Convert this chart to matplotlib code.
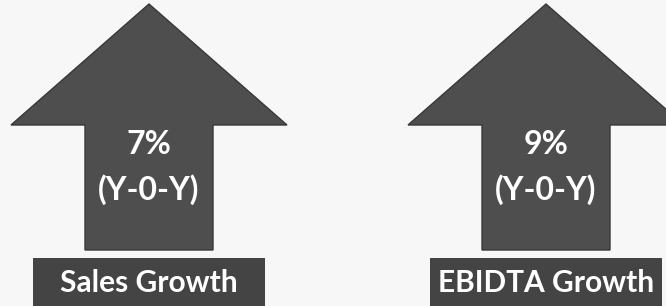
import matplotlib.pyplot as plt
from matplotlib.patches import Polygon, Rectangle

# Datos del grafico
metricas = ["Sales Growth", "EBIDTA Growth"]
crecimiento = [7, 9]          # porcentaje Y-0-Y
sufijo = "(Y-0-Y)"

# Geometria de cada flecha (en pixeles, eje y invertido)
centros = [149, 546]
ancho_cabeza = 138
ancho_cuerpo = 64
y_punta, y_cabeza, y_base = 4, 125, 250
caja_mitad, caja_top = 116, 258

COLOR_FLECHA = "#4e4e4e"
COLOR_CAJA = "#444444"
FUENTE = "Lato"

fig = plt.figure(figsize=(6.66, 3.06), dpi=100)
fig.patch.set_facecolor("#f7f7f7")
ax = fig.add_axes([0, 0, 1, 1])
ax.set_xlim(0, 666)
ax.set_ylim(306, 0)
ax.axis("off")

for cx, nombre, valor in zip(centros, metricas, crecimiento):
    # flecha hacia arriba
    pts = [
        (cx, y_punta),
        (cx + ancho_cabeza, y_cabeza),
        (cx + ancho_cuerpo, y_cabeza),
        (cx + ancho_cuerpo, y_base),
        (cx - ancho_cuerpo, y_base),
        (cx - ancho_cuerpo, y_cabeza),
        (cx - ancho_cabeza, y_cabeza),
    ]
    ax.add_patch(Polygon(pts, closed=True, facecolor=COLOR_FLECHA, edgecolor="#383838", lw=1))

    ax.text(cx, 144, f"{valor}%", color="white", fontsize=23, fontweight="bold",
            family=FUENTE, ha="center", va="center")
    ax.text(cx, 190, sufijo, color="white", fontsize=23, fontweight="bold",
            family=FUENTE, ha="center", va="center")

    # caja con la etiqueta
    ax.add_patch(Rectangle((cx - caja_mitad, caja_top), 2 * caja_mitad, 306 - caja_top + 2,
                           facecolor=COLOR_CAJA, edgecolor="none"))
    ax.text(cx, 283, nombre, color="white", fontsize=21.5, fontweight="bold",
            family=FUENTE, ha="center", va="center")

fig.savefig("out.png", dpi=100, facecolor=fig.get_facecolor())
